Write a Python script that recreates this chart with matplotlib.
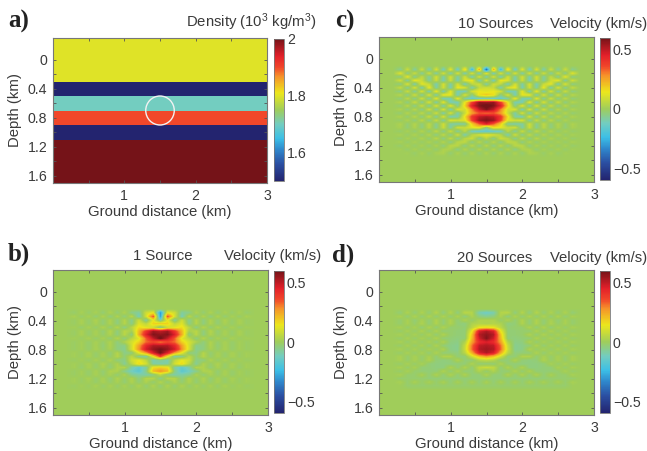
import numpy as np
import matplotlib
matplotlib.use('Agg')
import matplotlib.pyplot as plt
from matplotlib.colors import LinearSegmentedColormap
from matplotlib.patches import Circle

plt.rcParams['font.family'] = 'Liberation Sans'
plt.rcParams['mathtext.fontset'] = 'custom'
plt.rcParams['mathtext.rm'] = 'Liberation Sans'
plt.rcParams['mathtext.default'] = 'regular'

W, H = 647, 451
TXT = '#3a3a3a'
FS = 10.7
TICK_FS = 10.2

# density model: layer boundaries (km) and density (10^3 kg/m^3)
layer_edges = [-0.3, 0.3, 0.5, 0.7, 0.9, 1.1, 1.7]
layer_density = [1.8, 1.5, 1.7, 1.9, 1.5, 2.0]

# velocity in 0.01 km/s, right half only (x = 1.5 to 2.7, step 0.1)
# rows go down in depth with step 0.05
start_b = 0.30
vel_b = [
    [-30, 14,  9, -8, -5,  3, -3,  3, -3,  2, -2,  2, -2],
    [-28, 36, 10,-11,  5, -4,  3, -4,  3, -3,  2, -2,  2],
    [-10, 14, -8,  9, -6,  4, -4,  3, -3,  3, -2,  2, -1],
    [ 20, 18,  6, 12, -5,  4, -4,  3, -3,  2, -2,  2, -1],
    [ -5,  8, 12, 16,  5, -5,  4, -3,  3, -2,  2, -2,  1],
    [ 50, 54, 40, 22,  2,  5, -4,  4, -3,  2, -2,  2, -1],
    [ 56, 58, 46, 24, -4,  5, -4,  3, -2,  2, -2,  2, -1],
    [ 62, 50, 34, 12,  5, -4,  4, -3,  2, -2,  2, -1,  1],
    [ 30, 36, 32, 18, 10,  3, -4,  3, -2,  2, -2,  1, -1],
    [ 52, 52, 44, 26, 10, -5, -4,  3, -3,  2, -2,  1, -1],
    [ 60, 56, 48, 28, 10, -6, -4,  2, -2,  2, -2,  1, -1],
    [ 60, 46, 26, 13, -4, -5,  4, -3,  2, -2,  2, -1,  1],
    [ 38, 14, -8, -6,  6, -3,  4, -2,  2, -2,  2, -1,  1],
    [ -6,-10,  6, 14,  9, -5, -4,  3, -2,  2, -2,  1, -1],
    [ -9, -8, 10, 17,  5, -7,  3, -2,  3, -2,  2, -1,  1],
    [ 18, 16, -8,-15, -9,  4,  3, -3,  2, -2,  2, -2,  1],
    [ 28, 22, -5,-17,-12, -6,  3,  3, -3,  2, -2,  1, -1],
    [  6, -5, -9, -8, -6,  3, -3,  2, -2,  2, -2,  1, -1],
    [ -5,  4,  4, -4,  3, -2,  3, -3,  2, -2,  2, -1,  1],
    [  4, -3,  3, -3,  3, -3,  2, -2,  2, -2,  1, -1,  1],
    [ -3,  3, -3,  3, -2,  2, -2,  2, -2,  2, -1,  1, -1],
]

start_c = 0.10
vel_c = [
    [  0,  0,  0,  0,  0,  0,  0,  0,  0,  0,  0,  0,  0],
    [-40, 26,-24, 18,-14, 13,-12, 11,-10,  9, -8,  8, -6],
    [ 14,-12, 12,-11, 11,-10, 10, -9,  9, -8,  8, -6, 12],
    [-10, 11,-12, 10, -9, 10, -9, 10, -8,  7, -7, 13, -5],
    [ 10,-11, 14, 11,-10,  9,-10,  8, -7,  8, 13, -8,  9],
    [ -9,  9,  6,-11, 10, -9, 10,-10,  8, 13,-10, 11, -5],
    [  9,  7,-10, 11, 14,-10,  9, -8, 14,-10, 11, -7,  7],
    [ 12, 14, 10,-11,-10, 13,-10, 14,-10, 11, -8,  8, -5],
    [ 20, 16, -5, 11,-11, 13, 14,-10, 11, -8,  9, -6,  5],
    [-11,-13,-14, -8, 14,-10,-11, 13, -8,  9, -6,  6, -4],
    [ 54, 56, 38, 14,-10,-11, 13,-10, 11, -7,  8, -5,  4],
    [ 63, 58, 46, 18, -6, 13,-10, 11, -8,  8, -6,  5, -3],
    [ 58, 50, 30,  9, 11,-11, 11, -8,  9, -6,  5, -4,  3],
    [ 32, 34, 26,  8, -9, 11,-10,  9, -6,  6, -4,  4, -3],
    [ 53, 50, 40, 16, -8,-11, 11, -8,  8, -5,  5, -3,  3],
    [ 58, 55, 38, 12,  9, 11, -8,  8, -6,  6, -4,  3, -2],
    [ 46, 34, 18, -7, -9, -8,  9, -6,  6, -4,  4, -3,  3],
    [ -4, 15, 13,  7,  9, -8,  8, -6,  5, -4,  3, -3,  2],
    [-16,-15,-12,  6, -8,  8, -6,  6, -4,  4, -3,  2, -2],
    [ 13, 10,  5,-10,  9, -6,  6, -5,  4, -3,  3, -2,  2],
    [  5, -5,  8,  5, -6,  6, -5,  5, -3,  3, -2,  2, -2],
    [ -5,  5, -5,  6,  5, -5,  4, -3,  3, -2,  2, -2,  2],
    [  5, -5,  5, -5,  5,  5, -4,  3, -3,  2, -2,  2, -2],
    [ -4,  4, -4,  4, -5,  3,  3, -3,  2, -2,  2, -2,  1],
    [  3, -3,  3, -3,  3, -3,  3,  2, -2,  2, -2,  1,  0],
]

start_d = 0.30
vel_d = [
    [-13,-10,  4,  5, -4,  4, -4,  4, -3,  3, -3,  3, -3],
    [ -6, -4,  3, -4,  3, -3,  3, -3,  3, -3,  3, -3,  2],
    [  3,  3, -2,  3, -3,  3, -3,  3, -3,  2, -3,  2, -2],
    [  3,  4,  3, -4, -3,  3, -3,  3, -3,  3, -2,  2, -2],
    [ 15, 13,  5, -3, -2, -2,  3, -3,  3, -3,  2, -2,  2],
    [ 52, 46, 14, -3, -3, -2, -3,  3, -3,  3, -2,  2, -2],
    [ 56, 52, 20, -3, -3, -2,  3, -3,  3, -2,  2, -2,  2],
    [ 58, 48, 22, -3, -4, -3, -3,  3, -2,  2, -2,  2, -2],
    [ 46, 42, 26,  3, -5, -4,  3, -3,  2, -2,  2, -2,  2],
    [ 52, 50, 32,  7, -6, -5, -3,  3, -3,  2, -2,  2, -2],
    [ 54, 52, 33,  8, -6, -5,  3, -2,  2, -2,  2, -2,  2],
    [ 52, 46, 24,  5, -4, -3, -3,  3, -3,  2, -2,  2, -2],
    [ 26, 20,  9, -3, -3,  3,  3, -3,  2, -2,  2, -2,  2],
    [  6,  4, -3, -3,  3, -3, -4, -3,  3, -2,  2, -2,  2],
    [ -3, -3,  3, -3, -3, -4, -4, -4, -3,  2, -2,  2, -2],
    [  8,  6, -3,  3, -3,  3, -4, -4, -3, -3,  2, -2,  2],
    [ -3,  3, -3, -3,  3, -3,  3, -3, -3, -3, -2,  2, -2],
    [  3, -3, -3,  3, -3,  3, -3,  3, -3,  2, -2, -2,  2],
    [ -3, -3, -3, -3, -3, -3, -3, -3, -3, -2, -2, -2, -2],
    [  2, -3,  2, -3,  2, -3,  2, -2,  2, -2,  2, -2,  2],
    [ -2, -2, -2, -2, -2, -2, -2, -2, -2, -2, -2, -2,  0],
]

# print-faded jet like the figure
cm = LinearSegmentedColormap.from_list('fadedjet', [
    (0.00, '#23246f'), (0.12, '#2b4fa2'), (0.22, '#2f88cc'), (0.30, '#3cbfe6'),
    (0.40, '#73cdc0'), (0.50, '#9fcd5c'), (0.62, '#ece71c'), (0.74, '#f6902a'),
    (0.80, '#f1472a'), (0.88, '#e3202a'), (1.00, '#751318')])


def rect(l, t, r, b):
    return [l / W, 1 - b / H, (r - l) / W, (b - t) / H]


def text(x, y, s, **kw):
    kw.setdefault('fontsize', FS)
    kw.setdefault('color', TXT)
    fig.text(x / W, 1 - y / H, s, va='baseline', **kw)


def style_axes(ax):
    ax.set_xlim(0, 3)
    ax.set_ylim(1.7, -0.3)
    ax.set_xticks([0.5, 1, 1.5, 2, 2.5, 3], ['', '1', '', '2', '', '3'])
    ax.set_yticks([0, 0.2, 0.4, 0.6, 0.8, 1.0, 1.2, 1.4, 1.6],
                  ['0', '', '0.4', '', '0.8', '', '1.2', '', '1.6'])
    ax.tick_params(direction='in', top=True, right=True, length=2, width=0.6,
                   color='#555555', labelsize=TICK_FS, labelcolor=TXT, pad=4)
    for s in ax.spines.values():
        s.set_color('#777777')
        s.set_linewidth(0.8)
    ax.set_xlabel('Ground distance (km)', fontsize=FS, color=TXT, labelpad=1.5)
    ax.set_ylabel('Depth (km)', fontsize=FS, color=TXT)
    ax.yaxis.set_label_coords(-0.145, 0.5)


def style_cbar(cb, ticks, labels):
    cb.set_ticks(ticks, labels=labels)
    cb.ax.tick_params(length=0, labelsize=TICK_FS, labelcolor=TXT, pad=2)
    cb.outline.set_edgecolor('#777777')
    cb.outline.set_linewidth(0.6)


def velocity_panel(axbox, cbox, half, start):
    ax = fig.add_axes(rect(*axbox))
    half = np.array(half) / 100.0
    full = np.zeros((41, 31))
    row = int(round((start + 0.3) / 0.05))
    field = np.hstack([half[:, :0:-1], half])
    full[row:row + field.shape[0], 3:28] = field
    im = ax.imshow(full, extent=[-0.05, 3.05, 1.725, -0.325], aspect='auto',
                   cmap=cm, vmin=-0.6, vmax=0.6, interpolation='bilinear')
    style_axes(ax)
    cax = fig.add_axes(rect(*cbox))
    cb = fig.colorbar(im, cax=cax)
    style_cbar(cb, [-0.5, 0, 0.5], ['\u22120.5', '0', '0.5'])


fig = plt.figure(figsize=(W / 100, H / 100), dpi=100)

# a) density
ax = fig.add_axes(rect(53, 38, 267, 183))
mesh = ax.pcolormesh([0, 3], layer_edges, np.array(layer_density)[:, None],
                     cmap=cm, vmin=1.5, vmax=2.0)
ax.add_patch(Circle((1.5, 0.7), 0.2, fill=False, ec='#f2f2f2', lw=1.0))
style_axes(ax)
cb = fig.colorbar(mesh, cax=fig.add_axes(rect(274, 39, 284, 181)))
style_cbar(cb, [1.6, 1.8, 2.0], ['1.6', '1.8', '2'])

velocity_panel((53, 270, 268, 415), (274, 271, 284, 413), vel_b, start_b)
velocity_panel((379, 37, 594, 182), (600, 38, 610, 180), vel_c, start_c)
velocity_panel((379, 270, 594, 415), (600, 271, 610, 413), vel_d, start_d)

letter = dict(family='Liberation Serif', fontweight='bold', fontsize=18, color='#222222')
text(8, 28, 'a)', **letter)
text(8, 261, 'b)', **letter)
text(335, 28, 'c)', **letter)
text(332, 262, 'd)', **letter)

text(316, 27, r'Density (10$^3$ kg/m$^3$)', ha='right')
text(321, 260, 'Velocity (km/s)', ha='right')
text(647, 28, 'Velocity (km/s)', ha='right')
text(647, 262, 'Velocity (km/s)', ha='right')
text(133, 260, '1 Source')
text(458, 28, '10 Sources')
text(457, 262, '20 Sources')

fig.savefig('out.png', dpi=100)
